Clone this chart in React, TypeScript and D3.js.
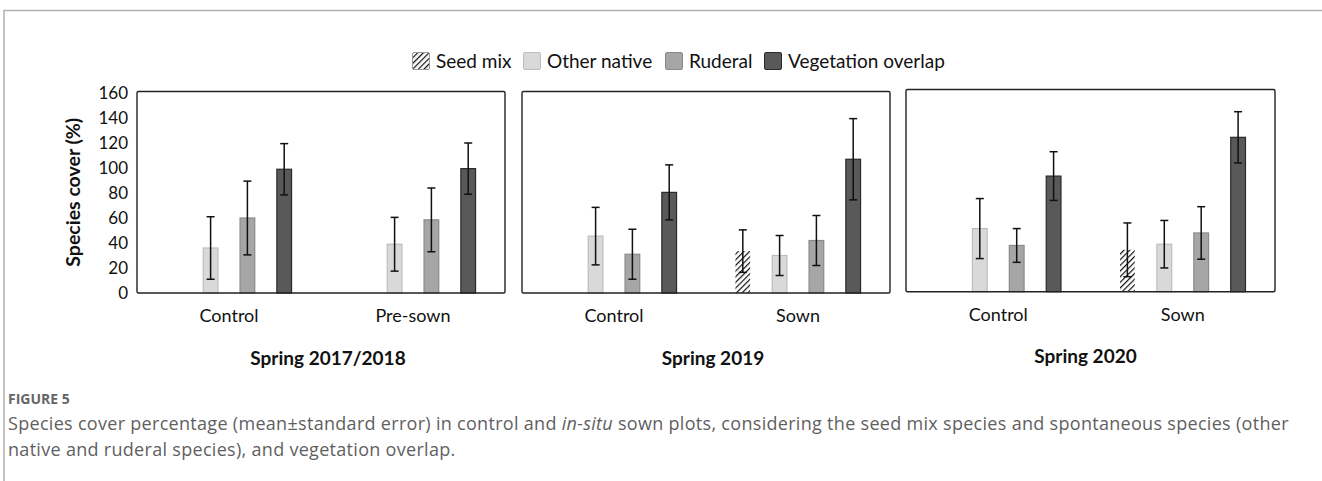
import React from "react";
import * as d3 from "d3";

const seriesNames = ["Seed mix", "Other native", "Ruderal", "Vegetation overlap"];
const panelTitles = ["Spring 2017/2018", "Spring 2019", "Spring 2020"];
const panelGroups = [
  ["Control", "Pre-sown"],
  ["Control", "Sown"],
  ["Control", "Sown"],
];
// means per panel -> group -> series (null = not present)
const meansP1 = [
  [null, 36, 60, 99],
  [null, 39, 58.5, 99.5],
];
const errP1 = [
  [null, 25, 29.5, 20.5],
  [null, 21.5, 25.5, 20.5],
];
const meansP2 = [
  [null, 45.5, 31, 80.5],
  [33.5, 30, 42, 107],
];
const errP2 = [
  [null, 23, 20, 22],
  [17, 16, 20, 32.5],
];
const meansP3 = [
  [null, 50.5, 37, 92.5],
  [33.5, 38, 47, 123.5],
];
const errP3 = [
  [null, 24, 13.5, 19.5],
  [21.5, 19, 21, 20.5],
];
const yTicks = [0, 20, 40, 60, 80, 100, 120, 140, 160];

const allMeans = [meansP1, meansP2, meansP3];
const allErr = [errP1, errP2, errP3];

const fills = ["url(#hatch)", "#d9d9d9", "#a6a6a6", "#595959"];
const strokes = ["none", "#bdbdbd", "#8a8a8a", "#2a2a2a"];

const panels = [
  { x0: 137, x1: 505, top: 91.5, bottom: 293, titleDx: 7, titleDy: 72 },
  { x0: 522, x1: 890, top: 91.5, bottom: 293, titleDx: 7, titleDy: 72 },
  { x0: 906, x1: 1275, top: 89.5, bottom: 291.7, titleDx: -5, titleDy: 71 },
];

const legendX = [412, 523, 665, 764];

const FONT = "Lato, 'Open Sans', sans-serif";

export default function App() {
  const W = 1322;
  const H = 481;
  return (
    <svg
      width={W}
      height={H}
      style={{ position: "absolute", left: 0, top: 0, background: "#fff" }}
    >
      <defs>
        <pattern
          id="hatch"
          patternUnits="userSpaceOnUse"
          width={4}
          height={4}
          patternTransform="rotate(45)"
        >
          <rect width={4} height={4} fill="#fff" />
          <line x1={0} y1={0} x2={0} y2={4} stroke="#111" strokeWidth={2.4} />
        </pattern>
      </defs>

      {/* outer frame */}
      <line x1={3.5} y1={10.5} x2={W} y2={10.5} stroke="#b0b0b0" strokeWidth={1.5} />
      <line x1={4} y1={10} x2={4} y2={H} stroke="#b0b0b0" strokeWidth={1.5} />

      {/* legend */}
      <g fontFamily={FONT} fontSize={19} fill="#111">
        {seriesNames.map((s, i) => (
          <g key={s} transform={`translate(${legendX[i]},52)`}>
            <rect
              x={0.5}
              y={0.5}
              width={17}
              height={17}
              rx={1.5}
              fill={fills[i]}
              stroke={i === 0 ? "#999" : strokes[i]}
              strokeWidth={1}
            />
            <text x={24} y={15.5}>
              {s}
            </text>
          </g>
        ))}
      </g>

      {panels.map((p, pi) => {
        const y = d3.scaleLinear().domain([0, 160]).range([p.bottom, p.bottom - 200]);
        const gx = d3.scaleBand<string>().domain(panelGroups[pi]).range([p.x0, p.x1]);
        const bw = gx.bandwidth();
        const sx = d3
          .scaleBand<string>()
          .domain(seriesNames)
          .range([bw * 0.1, bw * 0.9])
          .paddingInner(0.6)
          .paddingOuter(0.3);
        const means = allMeans[pi];
        const errs = allErr[pi];
        return (
          <g key={pi}>
            {panelGroups[pi].map((g, gi) => (
              <g key={g} transform={`translate(${gx(g)},0)`}>
                {seriesNames.map((s, si) => {
                  const m = means[gi][si];
                  if (m == null) return null;
                  const e = errs[gi][si] as number;
                  const bx = sx(s) as number;
                  const cx = bx + sx.bandwidth() / 2;
                  return (
                    <g key={s}>
                      <rect
                        x={bx}
                        y={y(m)}
                        width={sx.bandwidth()}
                        height={y(0) - y(m)}
                        fill={fills[si]}
                        stroke={strokes[si]}
                        strokeWidth={1.2}
                      />
                      <g stroke="#111" strokeWidth={1.5}>
                        <line x1={cx} x2={cx} y1={y(m + e)} y2={y(m - e)} />
                        <line x1={cx - 4} x2={cx + 4} y1={y(m + e)} y2={y(m + e)} />
                        <line x1={cx - 4} x2={cx + 4} y1={y(m - e)} y2={y(m - e)} />
                      </g>
                    </g>
                  );
                })}
                <text
                  x={bw / 2}
                  y={p.bottom + 29}
                  textAnchor="middle"
                  fontFamily={FONT}
                  fontSize={18}
                  fill="#111"
                >
                  {g}
                </text>
              </g>
            ))}
            <rect
              x={p.x0}
              y={p.top}
              width={p.x1 - p.x0}
              height={p.bottom - p.top}
              fill="none"
              stroke="#222"
              strokeWidth={1.4}
              rx={1.5}
            />
            <text
              x={(p.x0 + p.x1) / 2 + p.titleDx}
              y={p.bottom + p.titleDy}
              textAnchor="middle"
              fontFamily={FONT}
              fontWeight="bold"
              fontSize={19}
              fill="#111"
            >
              {panelTitles[pi]}
            </text>
            {pi === 0 && (
              <g fontFamily={FONT} fontSize={17} fill="#111">
                {yTicks.map((t) => (
                  <text key={t} x={p.x0 - 9} y={y(t) + 6} textAnchor="end">
                    {t}
                  </text>
                ))}
                <text
                  transform={`translate(80,${(p.top + p.bottom) / 2}) rotate(-90)`}
                  textAnchor="middle"
                  fontWeight="bold"
                  fontSize={19.5}
                >
                  Species cover (%)
                </text>
              </g>
            )}
          </g>
        );
      })}

      {/* caption */}
      <g fontFamily="'Open Sans', sans-serif" fill="#5f5f5f">
        <text x={8} y={404} fontSize={14} fontWeight="bold" fill="#666">
          FIGURE 5
        </text>
        <text x={8} y={430} fontSize={18} letterSpacing={0.3}>
          Species cover percentage (mean±standard error) in control and{" "}
          <tspan fontStyle="italic">in-situ</tspan> sown plots, considering the seed mix
          species and spontaneous species (other
        </text>
        <text x={8} y={456} fontSize={18} letterSpacing={0.3}>
          native and ruderal species), and vegetation overlap.
        </text>
      </g>
    </svg>
  );
}
